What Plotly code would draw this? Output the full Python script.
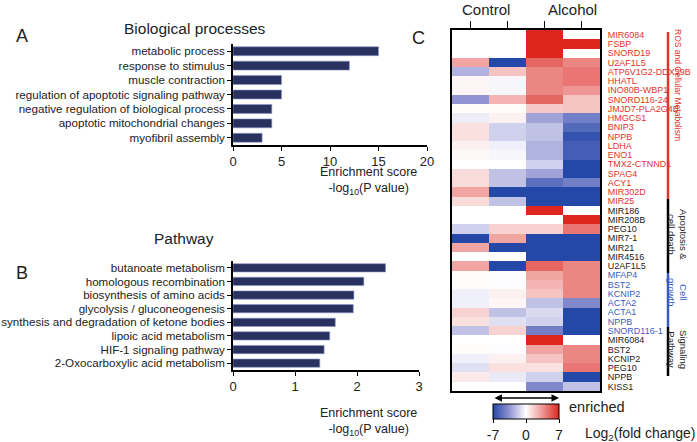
import plotly.graph_objects as go

# ---- data ----
bp_terms = ["metabolic process", "response to stimulus", "muscle contraction",
            "regulation of apoptotic signaling pathway",
            "negative regulation of biological process",
            "apoptotic mitochondrial changes", "myofibril assembly"]
bp_scores = [15, 12, 5, 5, 4, 4, 3]

pw_terms = ["butanoate metabolism", "homologous recombination",
            "biosynthesis of amino acids", "glycolysis / gluconeogenesis",
            "synthesis and degradation of ketone bodies", "lipoic acid metabolism",
            "HIF-1 signaling pathway", "2-Oxocarboxylic acid metabolism"]
pw_scores = [2.46, 2.11, 1.95, 1.94, 1.65, 1.56, 1.47, 1.40]

genes = ["MIR6084", "FSBP", "SNORD19", "U2AF1L5", "ATP6V1G2-DDX39B", "HHATL",
         "INO80B-WBP1", "SNORD116-24", "JMJD7-PLA2G4B", "HMGCS1", "BNIP3", "NPPB",
         "LDHA", "ENO1", "TMX2-CTNND1", "SPAG4", "ACY1", "MIR302D", "MIR25",
         "MIR186", "MIR208B", "PEG10", "MIR7-1", "MIR21", "MIR4516", "U2AF1L5",
         "MFAP4", "BST2", "KCNIP2", "ACTA2", "ACTA1", "NPPB", "SNORD116-1",
         "MIR6084", "BST2", "KCNIP2", "PEG10", "NPPB", "KISS1"]
gene_group = ["ros"] * 19 + ["apo"] * 7 + ["cell"] * 7 + ["sig"] * 6

# columns: Control, Control, Alcohol, Alcohol
log2fc = [
    [0, 0, 7, 0], [0, 0, 7, 7], [0, 0, 7, 0], [3, -7, 5, 4],
    [-2.5, 2, 4, 4.5], [0.3, -0.3, 4, 4.5], [0.3, -0.3, 4, 3.5], [-3.5, 2.5, 5, 2],
    [0.1, 0.1, 1.8, 2], [-0.6, 0.5, -3, -4.5], [1, -1.5, -2, -5.5], [1, -1.5, -2, -6.5],
    [0.5, -0.5, -2.5, -6], [0.2, -0.3, -2.5, -6], [0, 0, -1.5, -7], [1.2, -2, -3, -7],
    [1.2, -2, -5.2, -4.5], [3, -7, -7, -7], [1.2, -2, -7, -7],
    [0, 0, 7, 0], [0, 0, 0, 7], [-1.5, 1.5, 1.5, 4.5], [-7, 3, -7, -7],
    [3, -7, -7, -7], [0, 0, -7, -7], [3, -7, 5, 4],
    [0.1, -0.1, 3, 4], [0.1, -0.1, 2.5, 4], [-0.5, 0.5, 2, 4], [-0.5, 0.3, -2, -4],
    [1.5, -2, -1.2, -7], [1, -1, -1.5, -7], [-2, 1.5, -4.5, -7],
    [0, 0, 7, 0], [0.1, -0.1, 3, 4], [-0.5, 0.5, 2, 4], [-1, 1, 1, 4.5],
    [0.7, -0.7, -1.5, -7], [0, 0, -4, -2],
]
cbar_ticks = [-7, 0, 7]
cbar_labels = ["-7", "0", "7"]

W, H = 697, 442
RED = "#e3342b"
BLUE = "#3a5cc2"
BAR = "#29325f"
FONT = "Liberation Sans, Arial, sans-serif"


def px(x):
    return x / W


def py(y):
    return 1 - y / H


label_color = {"ros": RED, "apo": "#222222", "cell": BLUE, "sig": "#222222"}
gene_ticks = ['<span style="color:%s">%s</span>' % (label_color[g], n)
              for n, g in zip(genes, gene_group)]

bp_pos = list(range(len(bp_terms)))
pw_pos = list(range(len(pw_terms)))

fig = go.Figure()

fig.add_trace(go.Bar(x=bp_scores, y=bp_pos, orientation="h", width=0.62,
                     marker=dict(color=BAR, line=dict(color="#8f96c8", width=0.6)),
                     xaxis="x", yaxis="y", showlegend=False))
fig.add_trace(go.Bar(x=pw_scores, y=pw_pos, orientation="h", width=0.61,
                     marker=dict(color=BAR, line=dict(color="#8f96c8", width=0.6)),
                     xaxis="x2", yaxis="y2", showlegend=False))

fig.add_trace(go.Heatmap(
    z=log2fc, x=[0, 1, 2, 3], y=list(range(len(genes))),
    zmin=-7, zmax=7,
    colorscale=[[0, "rgb(36,72,168)"], [0.25, "rgb(145,148,210)"],
                [0.5, "rgb(255,255,255)"], [0.75, "rgb(238,150,148)"],
                [1, "rgb(220,38,30)"]],
    xaxis="x3", yaxis="y3",
    colorbar=dict(orientation="h", x=px(526), xanchor="center",
                  y=py(404), yanchor="top", len=66 / W, lenmode="fraction",
                  thickness=15, outlinewidth=1, outlinecolor="black",
                  tickvals=cbar_ticks, ticktext=cbar_labels, ticks="outside",
                  ticklen=4, tickcolor="black", tickfont=dict(size=14, color="#222"),
                  xpad=0, ypad=0),
))

bar_x = dict(showline=True, linecolor="black", linewidth=1.5, ticks="outside",
             ticklen=4, tickcolor="black", tickfont=dict(size=13, color="#222"),
             showgrid=False, zeroline=False, automargin=False)
bar_y = dict(showline=True, linecolor="black", linewidth=1.5, ticks="outside",
             ticklen=4, tickcolor="black", tickfont=dict(size=11.6, color="#222"),
             showgrid=False, zeroline=False, automargin=False)

fig.update_layout(
    width=W, height=H, margin=dict(l=0, r=0, t=0, b=0, autoexpand=False),
    paper_bgcolor="white", plot_bgcolor="white",
    font=dict(family=FONT, color="#222"),
    xaxis=dict(domain=[px(233), px(427)], range=[0, 20], tickvals=[0, 5, 10, 15, 20],
               anchor="y", **bar_x),
    yaxis=dict(domain=[py(145), py(44)], anchor="x", range=[len(bp_terms) - 0.5, -0.5],
               tickvals=bp_pos, ticktext=bp_terms, **bar_y),
    xaxis2=dict(domain=[px(233), px(419)], range=[0, 3], tickvals=[0, 1, 2, 3],
                anchor="y2", **bar_x),
    yaxis2=dict(domain=[py(370), py(261)], anchor="x2", range=[len(pw_terms) - 0.5, -0.5],
                tickvals=pw_pos, ticktext=pw_terms, **bar_y),
    xaxis3=dict(domain=[px(452), px(600)], range=[-0.5, 3.5], side="top",
                tickvals=[0, 1, 2, 3], showticklabels=False, ticks="outside",
                ticklen=7, tickcolor="black", showline=True, mirror=True,
                linecolor="black", linewidth=2, showgrid=False, zeroline=False,
                anchor="y3", automargin=False),
    yaxis3=dict(domain=[py(391), py(30)], range=[len(genes) - 0.5, -0.5],
                side="right", tickvals=list(range(len(genes))), ticktext=gene_ticks,
                ticks="", ticklabelstandoff=4,
                tickfont=dict(size=9),
                showline=True, mirror=True, linecolor="black", linewidth=2,
                showgrid=False, zeroline=False, anchor="x3", automargin=False),
)


def note(text, x, y, size, xanchor="center", **kw):
    fig.add_annotation(text=text, x=px(x), y=py(y), xref="paper", yref="paper",
                       xanchor=xanchor, yanchor="middle", showarrow=False,
                       font=dict(size=size, color=kw.pop("color", "#222")), **kw)


note("A", 22, 36, 18)
note("B", 22, 273, 18)
note("C", 418, 38, 18)
note("Biological processes", 195, 29, 15.5)
note("Pathway", 184, 239, 15.5)
note("Enrichment score<br>-log<sub>10</sub>(P value)", 368, 181, 12.5)
note("Enrichment score<br>-log<sub>10</sub>(P value)", 368, 422, 12.5)
note("Control", 486, 9, 15)
note("Alcohol", 572, 9, 15)
note("enriched", 567, 407, 14.5, xanchor="left")
note("Log<sub>2</sub>(fold change)", 583, 434, 14, xanchor="left")

# double-headed arrow above the colour bar
fig.add_annotation(text="", x=px(559), y=py(398), xref="paper", yref="paper",
                   ax=-66, ay=0, showarrow=True, arrowhead=2, startarrowhead=2,
                   arrowside="end+start", arrowsize=1, arrowwidth=1.5,
                   arrowcolor="black", standoff=0, startstandoff=0)

# group brackets on the right
groups = [
    (32, 199, RED, "ROS and Cellular Metabolism", 85, 8.5),
    (199, 273, "black", "Apoptosis &<br>cell death", 234, 9.5),
    (273, 327, BLUE, "Cell<br>growth", 292, 9.5),
    (327, 376, "black", "Signaling<br>Pathway", 349, 9.5),
]
for y0, y1, col, text, yc, size in groups:
    fig.add_shape(type="line", xref="paper", yref="paper", x0=px(668), x1=px(668),
                  y0=py(y0), y1=py(y1), line=dict(color=col, width=2.5))
    note(text, 678, yc, size, textangle=90,
         color=col if col != "black" else "#222")

# the page body has a default 8px margin; drop it so the figure fills the window
fig.write_html("out.html", config={"displayModeBar": False},
               post_script="document.body.style.margin='0';")
